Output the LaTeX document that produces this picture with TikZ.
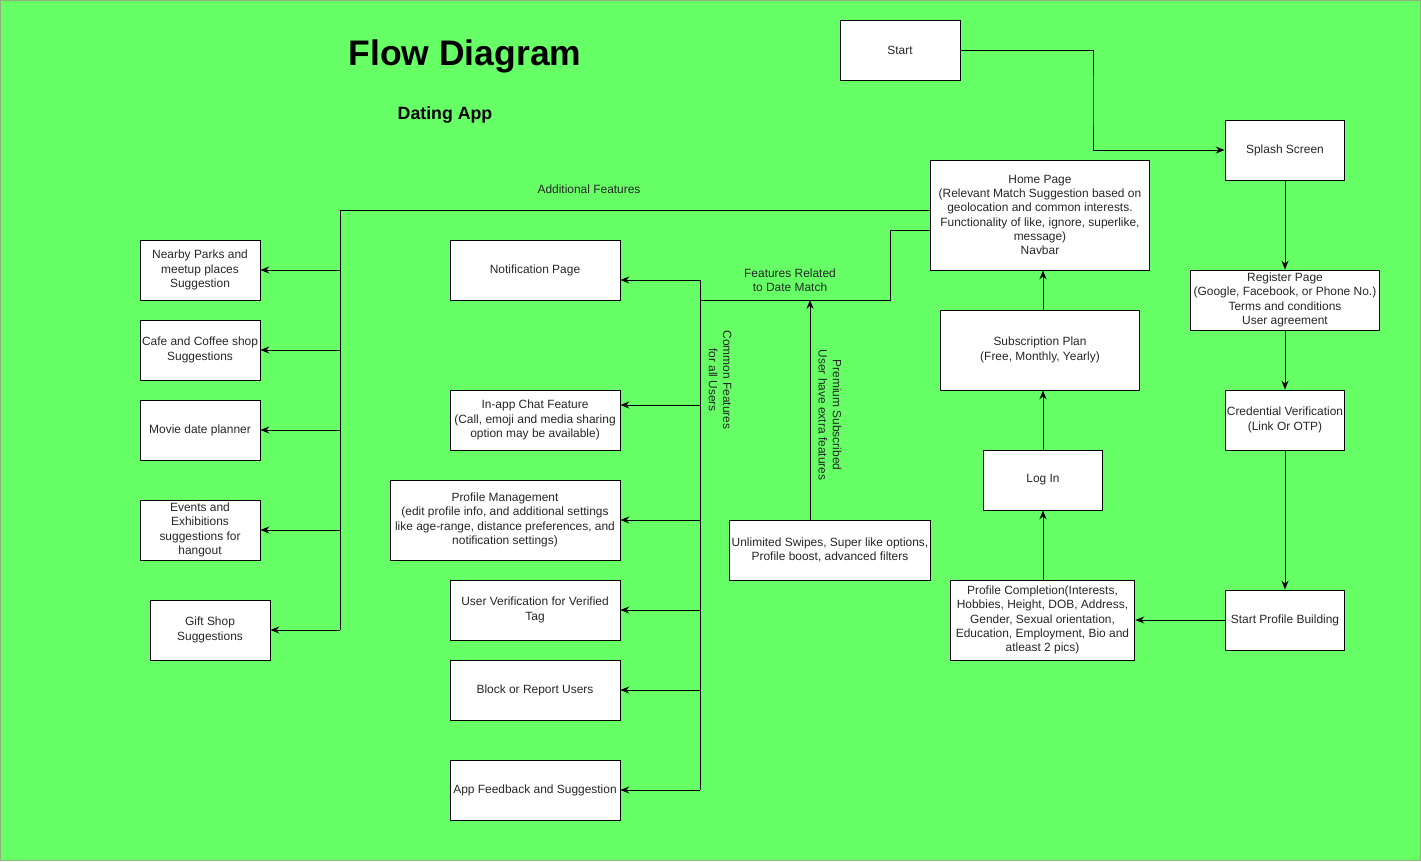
\documentclass[tikz,border=0pt]{standalone}
\usepackage{fontspec}
\setmainfont{Liberation Sans}
\usetikzlibrary{positioning,arrows.meta}

\definecolor{bggreen}{HTML}{66FF66}
\definecolor{bgedge}{HTML}{8FB07A}

\begin{document}
\begin{tikzpicture}[x=0.02cm,y=-0.02cm,line width=0.55pt,align=center,
    >={Stealth[length=5pt,width=4pt]},
    every node/.style={font=\fontsize{6.8}{8.1}\selectfont,text=black!85},
    box/.style={draw=black,fill=white,inner sep=1pt}]
      % background and page size
      \fill[bggreen] (0,0) rectangle (1421,861);
      \draw[bgedge,line width=0.6pt] (0.5,0.5) rectangle (1420.5,860.5);
      \useasboundingbox (0,0) rectangle (1421,861);

      \node[font=\bfseries\fontsize{20.2}{24}\selectfont,text=black] (title) at (465,56) {Flow Diagram};
      \node[font=\bfseries\fontsize{10.1}{12}\selectfont,text=black] (subtitle) at (445,115) {Dating App};

      % main flow
      \node[box,minimum width=2.4cm,minimum height=1.2cm] (start) at (900,50) {Start};
      \node[box,minimum width=2.4cm,minimum height=1.2cm] (splash) at (1285,150) {Splash Screen};
      \node[box,minimum width=3.8cm,minimum height=1.2cm] (register) at (1285,300)
      {Register Page\\(Google, Facebook, or Phone No.)\\Terms and conditions\\User agreement};
      \node[box,minimum width=2.4cm,minimum height=1.2cm] (verify) at (1285,420)
      {Credential Verification\\(Link Or OTP)};
      \node[box,minimum width=2.4cm,minimum height=1.2cm] (build) at (1285,620) {Start Profile Building};
      \node[box,minimum width=3.7cm,minimum height=1.6cm] (complete) at (1042.5,620)
      {Profile Completion(Interests,\\Hobbies, Height, DOB, Address,\\Gender, Sexual orientation,\\Education, Employment, Bio and\\atleast 2 pics)};
      \node[box,minimum width=2.4cm,minimum height=1.2cm] (login) at (1043,480) {Log In};
      \node[box,minimum width=4cm,minimum height=1.6cm] (plan) at (1040,350)
      {Subscription Plan\\(Free, Monthly, Yearly)};
      \node[box,minimum width=4.4cm,minimum height=2.2cm] (home) at (1040,215)
      {Home Page\\(Relevant Match Suggestion based on\\geolocation and common interests.\\Functionality of like, ignore, superlike,\\message)\\Navbar};
      \node[box,minimum width=4cm,minimum height=1.2cm] (premium) at (830,550)
      {Unlimited Swipes, Super like options,\\Profile boost, advanced filters};

      % date match features
      \node[box,minimum width=3.4cm,minimum height=1.2cm] (notif) at (535,270) {Notification Page};
      \node[box,minimum width=3.4cm,minimum height=1.2cm] (chat) at (535,420)
      {In-app Chat Feature\\(Call, emoji and media sharing\\option may be available)};
      \node[box,minimum width=4.6cm,minimum height=1.6cm] (manage) at (505,520)
      {Profile Management\\(edit profile info, and additional settings\\like age-range, distance preferences, and\\notification settings)};
      \node[box,minimum width=3.4cm,minimum height=1.2cm] (tag) at (535,610)
      {User Verification for Verified\\Tag};
      \node[box,minimum width=3.4cm,minimum height=1.2cm] (block) at (535,690) {Block or Report Users};
      \node[box,minimum width=3.4cm,minimum height=1.2cm] (feedback) at (535,790) {App Feedback and Suggestion};

      % additional features
      \node[box,minimum width=2.4cm,minimum height=1.2cm] (parks) at (200,270)
      {Nearby Parks and\\meetup places\\Suggestion};
      \node[box,minimum width=2.4cm,minimum height=1.2cm] (cafe) at (200,350)
      {Cafe and Coffee shop\\Suggestions};
      \node[box,minimum width=2.4cm,minimum height=1.2cm] (movie) at (200,430) {Movie date planner};
      \node[box,minimum width=2.4cm,minimum height=1.2cm] (events) at (200,530)
      {Events and\\Exhibitions\\suggestions for\\hangout};
      \node[box,minimum width=2.4cm,minimum height=1.2cm] (gift) at (210,630)
      {Gift Shop\\Suggestions};

      % labels
      \node (addlabel) at (589,189) {Additional Features};
      \node (datelabel) at (790,280) {Features Related\\to Date Match};
      \node[rotate=-90] (commonlabel) at (720,380) {Common Features\\for all Users};
      \node[rotate=-90] (premiumlabel) at (830,415) {Premium Subscribed\\User have extra features};

      \coordinate (addbus) at (340,210);
      \coordinate (datebus) at (700,300);
      \coordinate (premiumbus) at (810,300);

      % arrows of the main flow
      \draw[->] (start.east) -| (1093,100) |- (splash.west);
      \draw[->] (splash) -- (register);
      \draw[->] (register) -- (verify);
      \draw[->] (verify) -- (build);
      \draw[->] (build) -- (complete);
      \draw[->] (complete.north -| login) -- (login);
      \draw[->] (login) -- (plan.south -| login);
      \draw[->] (plan.north -| login) -- (home.south -| login);
      \draw[->] (premium.north -| premiumbus) -- (premiumbus);

      % additional features bus
      \draw (home.west |- addbus) -- (addbus) -- (addbus |- gift.east);
      \foreach \n in {parks,cafe,movie,events,gift}
        \draw[->] (\n.east -| addbus) -- (\n.east);

      % date match bus
      \draw ([yshift=-0.3cm]home.west) -| (890,300) -- (datebus);
      \draw ([yshift=-0.2cm]notif.east -| datebus) -- (datebus |- feedback.east);
      \draw[->] ([yshift=-0.2cm]notif.east -| datebus) -- ([yshift=-0.2cm]notif.east);
      \draw[->] ([yshift=0.3cm]chat.east -| datebus) -- ([yshift=0.3cm]chat.east);
      \foreach \n in {manage,tag,block,feedback}
        \draw[->] (\n.east -| datebus) -- (\n.east);
\end{tikzpicture}
\end{document}
